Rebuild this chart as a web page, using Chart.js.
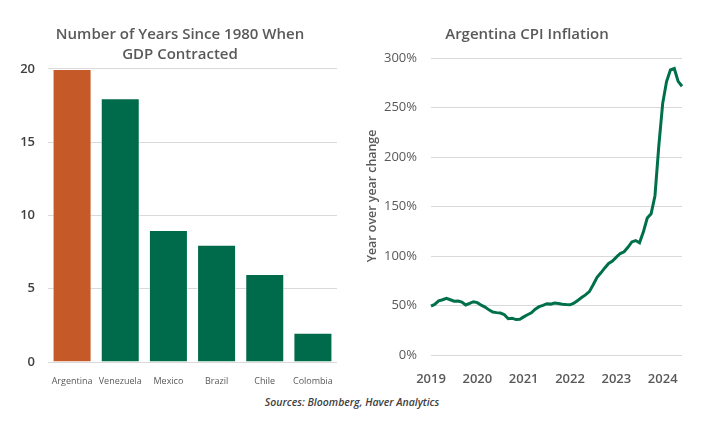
<!DOCTYPE html>
<html>
<head>
<meta charset="utf-8">
<script src="https://cdn.jsdelivr.net/npm/chart.js@4.4.1/dist/chart.umd.min.js"></script>
<style>
  html, body { margin: 0; padding: 0; background: #fff; }
  #wrap { position: relative; width: 716px; height: 425px; overflow: hidden; }
  #bars { position: absolute; left: 0; top: 0; }
  #cpi { position: absolute; left: 358px; top: 0; }
  #source {
    position: absolute; left: 0; width: 704px; top: 395px;
    text-align: center; font: italic 600 10.5px "Open Sans", sans-serif; color: #404040;
  }
</style>
</head>
<body>
<div id="wrap">
  <canvas id="bars" width="358" height="390"></canvas>
  <canvas id="cpi" width="358" height="390"></canvas>
  <div id="source">Sources: Bloomberg, Haver Analytics</div>
</div>
<script>
/* ---- data ---- */
var countries = ['Argentina', 'Venezuela', 'Mexico', 'Brazil', 'Chile', 'Colombia'];
var yearsContracted = [20, 18, 9, 8, 6, 2];
var barColors = ['#c55a28', '#006b4a', '#006b4a', '#006b4a', '#006b4a', '#006b4a'];

var cpiMonths = [
  '2019-01','2019-02','2019-03','2019-04','2019-05','2019-06','2019-07','2019-08','2019-09','2019-10','2019-11','2019-12',
  '2020-01','2020-02','2020-03','2020-04','2020-05','2020-06','2020-07','2020-08','2020-09','2020-10','2020-11','2020-12',
  '2021-01','2021-02','2021-03','2021-04','2021-05','2021-06','2021-07','2021-08','2021-09','2021-10','2021-11','2021-12',
  '2022-01','2022-02','2022-03','2022-04','2022-05','2022-06','2022-07','2022-08','2022-09','2022-10','2022-11','2022-12',
  '2023-01','2023-02','2023-03','2023-04','2023-05','2023-06','2023-07','2023-08','2023-09','2023-10','2023-11','2023-12',
  '2024-01','2024-02','2024-03','2024-04','2024-05','2024-06'
];
var cpiYoY = [
  49.3, 51.3, 54.7, 55.8, 57.3, 55.8, 54.4, 54.5, 53.5, 50.5, 52.1, 53.8,
  52.9, 50.3, 48.4, 45.6, 43.4, 42.8, 42.4, 40.7, 36.6, 37.2, 35.8, 36.1,
  38.5, 40.7, 42.6, 46.3, 48.8, 50.2, 51.8, 51.4, 52.5, 52.1, 51.2, 50.9,
  50.7, 52.3, 55.1, 58.0, 60.7, 64.0, 71.0, 78.5, 83.0, 88.0, 92.4, 94.8,
  98.8, 102.5, 104.3, 108.8, 114.2, 115.6, 113.4, 124.4, 138.3, 142.7, 160.9, 211.4,
  254.2, 276.2, 287.9, 289.4, 276.4, 271.5
];

var grey = '#595959';
var gridGrey = '#d9d9d9';
var fontFam = "'Open Sans', sans-serif";

/* ---- 1. GDP contraction bars ---- */
// nudge the title box so it centres like the Excel original (tick labels stay unclipped)
var titleNudge = {
  id: 'titleNudge',
  afterLayout: function(chart) {
    if (chart.titleBlock) chart.titleBlock.left += 23;
  }
};

new Chart(document.getElementById('bars'), {
  type: 'bar',
  data: {
    labels: countries,
    datasets: [{
      data: yearsContracted,
      backgroundColor: barColors,
      borderColor: 'rgba(255,255,255,0.6)',
      borderWidth: 1,
      categoryPercentage: 1,
      barPercentage: 0.81
    }]
  },
  plugins: [titleNudge],
  options: {
    responsive: false,
    animation: false,
    layout: { padding: { left: 0, right: 21, top: 0, bottom: 0 } },
    plugins: {
      legend: { display: false },
      tooltip: { enabled: false },
      title: {
        display: true,
        text: ['Number of Years Since 1980 When', 'GDP Contracted'],
        color: grey,
        font: { family: fontFam, size: 15, weight: '600', lineHeight: 1.33 },
        padding: { top: 25, bottom: 4 }
      }
    },
    scales: {
      x: {
        grid: { display: false },
        border: { display: false },
        ticks: { color: grey, font: { family: fontFam, size: 9 }, padding: 6, autoSkip: false, maxRotation: 0 },
        afterFit: function(s) { s.height = 28; }
      },
      y: {
        min: 0, max: 20,
        grid: { color: gridGrey, drawTicks: false },
        border: { display: false },
        ticks: { stepSize: 5, color: '#404040', font: { family: fontFam, size: 13, weight: '600' }, padding: 13 },
        afterFit: function(s) { s.width = 48; }
      }
    }
  }
});

/* ---- 2. Argentina CPI line ---- */
// y-axis title drawn by hand so it can sit a little above the axis middle, as in Excel
var sideTitle = {
  id: 'sideTitle',
  afterDraw: function(chart) {
    var ctx = chart.ctx;
    ctx.save();
    ctx.translate(14, 196);
    ctx.rotate(-Math.PI / 2);
    ctx.fillStyle = grey;
    ctx.font = "600 12.4px " + fontFam;
    ctx.textAlign = 'center';
    ctx.textBaseline = 'middle';
    ctx.fillText('Year over year change', 0, 0);
    ctx.restore();
  }
};

new Chart(document.getElementById('cpi'), {
  type: 'line',
  data: {
    labels: cpiMonths,
    datasets: [{
      data: cpiYoY,
      borderColor: '#00704a',
      borderWidth: 3,
      pointRadius: 0,
      tension: 0,
      fill: false
    }]
  },
  plugins: [sideTitle],
  options: {
    responsive: false,
    animation: false,
    layout: { padding: { left: 14, right: 34, top: 0, bottom: 0 } },
    plugins: {
      legend: { display: false },
      tooltip: { enabled: false },
      title: {
        display: true,
        text: 'Argentina CPI Inflation',
        color: grey,
        font: { family: fontFam, size: 15, weight: '600' },
        padding: { top: 26, bottom: 14 }
      }
    },
    scales: {
      x: {
        offset: false,
        grid: { display: false },
        border: { display: false },
        ticks: {
          color: grey,
          font: { family: fontFam, size: 13, weight: '600' },
          padding: 8,
          autoSkip: false,
          maxRotation: 0,
          callback: function(v, i) {
            var m = cpiMonths[i];
            return m.slice(5) === '01' ? m.slice(0, 4) : null;
          }
        },
        afterFit: function(s) { s.height = 35; }
      },
      y: {
        min: 0, max: 300,
        grid: { color: gridGrey, drawTicks: false },
        border: { display: false },
        ticks: {
          stepSize: 50, color: grey, padding: 14,
          font: { family: fontFam, size: 13 },
          callback: function(v) { return v + '%'; }
        },
        afterFit: function(s) { s.width = 59; }
      }
    }
  }
});
</script>
</body>
</html>
